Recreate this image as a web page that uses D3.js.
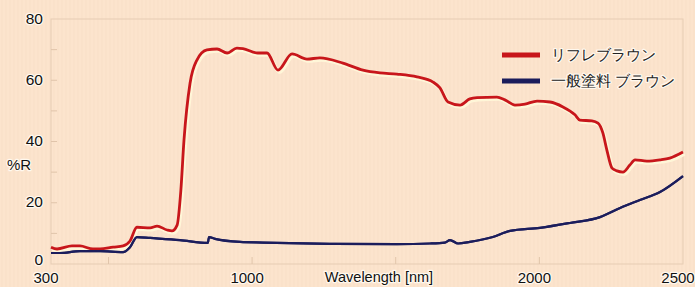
<!DOCTYPE html>
<html><head><meta charset="utf-8">
<script src="https://cdn.jsdelivr.net/npm/d3@7"></script>
<style>
html,body{margin:0;padding:0;background:#fce4cd;}
svg{display:block;}
text{font-family:"Liberation Sans",Arial,sans-serif;}
</style></head>
<body>
<svg id="c" width="695" height="287"></svg>
<script>
// ---- data ----
const reflWave = [300,321,373,401,446,471,516,551,575,599,645,669,704,721,739,752,763,784,808,843,878,913,947,968,1020,1052,1090,1139,1191,1236,1316,1386,1445,1504,1574,1630,1654,1682,1724,1758,1783,1852,1880,1915,1950,1992,2037,2082,2124,2141,2183,2204,2221,2235,2253,2270,2291,2315,2333,2374,2420,2454,2500];
const reflValues = [5.5,4.9,5.9,5.9,4.9,4.9,5.5,5.9,7.5,12,11.8,12.4,11.1,10.8,12.7,24,40.5,59,66.6,69.9,70.2,68.9,70.5,70.3,68.9,68.9,63.3,68.6,66.9,67.3,65.6,63.3,62.4,62.0,61.1,59.4,57.5,52.9,51.9,53.9,54.3,54.5,53.6,51.9,52.2,53.2,52.9,51.3,48.7,47.0,46.7,46.0,42.8,37.2,31.3,30.4,30.0,32.3,34,33.6,34,34.6,36.6];
const normWave = [300,331,401,471,551,575,599,645,749,846,850,871,958,1038,1271,1504,1619,1671,1689,1717,1758,1838,1898,2002,2106,2211,2281,2350,2420,2500];
const normValues = [3.6,3.6,4.2,4.2,3.9,5.5,8.8,8.5,7.8,6.9,8.8,8.2,7.2,7.0,6.6,6.5,6.7,7.0,7.8,6.7,7.2,8.8,10.8,11.8,13.4,15.3,18.3,20.9,23.5,28.7];
const seriesNames = ["リフレブラウン","一般塗料 ブラウン"];
const seriesColors = ["#c8161b","#1b1d5c"];
const xTickValues = [300,1000,2000,2500];
const xMinorTicks = [500,1000,1500,2000];
const yTickValues = [0,20,40,60,80];
const yMinorTicks = [10,20,30,40,50,60,70];

// ---- layout ----
const svg = d3.select("#c");
const L=51,R=683,T=19,B=264;
const x = d3.scaleLinear().domain([300,2500]).range([L,R]);
const y = d3.scaleLinear().domain([0,80]).range([B,T]);

svg.append("rect").attr("width",695).attr("height",287).attr("fill","#fce4cd");

// faint paper texture
const tex = svg.append("g").attr("stroke","#f3d8bf").attr("stroke-width",0.6).attr("opacity",0.6);
tex.selectAll("line").data(d3.range(2,695,4)).join("line")
  .attr("x1",d=>d).attr("x2",d=>d).attr("y1",0).attr("y2",287);

// frame
svg.append("rect").attr("x",L).attr("y",T).attr("width",R-L).attr("height",B-T)
  .attr("fill","none").attr("stroke","#e6ccb3").attr("stroke-width",1);

// minor ticks
const tk = svg.append("g").attr("stroke","#e0c4aa").attr("stroke-width",1);
tk.selectAll(".yt").data(yMinorTicks).join("line")
  .attr("x1",L).attr("x2",L+6).attr("y1",d=>y(d)).attr("y2",d=>y(d));
tk.selectAll(".xt").data(xMinorTicks).join("line")
  .attr("x1",d=>x(d)).attr("x2",d=>x(d)).attr("y1",B).attr("y2",B-7);

function halo(sel){
  return sel.attr("stroke","#fff8ee").attr("stroke-width",2.5).attr("stroke-linejoin","round")
    .attr("paint-order","stroke").attr("fill","#111");
}

// y labels
svg.selectAll(".yl").data(yTickValues).join("text")
  .attr("x",43).attr("y",d=>d===0 ? y(d)-5 : y(d)-1).attr("text-anchor","end").attr("dominant-baseline","central")
  .attr("font-size",15.5).text(d=>d).call(halo);
// x labels
svg.selectAll(".xl").data(xTickValues).join("text")
  .attr("x",d=>x(d)-5).attr("y",283).attr("text-anchor","middle")
  .attr("font-size",15).text(d=>d).call(halo);

svg.append("text").attr("x",7).attr("y",170).attr("font-size",15).text("%R").call(halo);
svg.append("text").attr("x",379).attr("y",282).attr("text-anchor","middle")
  .attr("font-size",14.5).text("Wavelength [nm]").call(halo);

// lines
const line = d3.line().x(d=>x(d[0])).y(d=>y(d[1])).curve(d3.curveMonotoneX);
const reflData = d3.zip(reflWave,reflValues);
const normData = d3.zip(normWave,normValues);

svg.append("path").datum(reflData).attr("d",line).attr("fill","none")
  .attr("stroke","#fff6d8").attr("stroke-width",3.5).attr("transform","translate(1.5,2)");
svg.append("path").datum(normData).attr("d",line).attr("fill","none")
  .attr("stroke","#2a2c6a").attr("stroke-width",2.2);
svg.append("path").datum(reflData).attr("d",line).attr("fill","none")
  .attr("stroke",seriesColors[0]).attr("stroke-width",2.8).attr("stroke-linejoin","round");
svg.append("path").datum(normData).attr("d",line).attr("fill","none")
  .attr("stroke",seriesColors[1]).attr("stroke-width",2.2).attr("stroke-linejoin","round");

// legend
const lg = svg.append("g");
seriesNames.forEach((n,i)=>{
  const yy = 55 + i*26;
  lg.append("rect").attr("x",502).attr("y",yy-2.5).attr("width",38).attr("height",5).attr("fill",seriesColors[i]);
  lg.append("text").attr("x",551).attr("y",yy).attr("dominant-baseline","central")
    .attr("font-family","'Noto Sans CJK JP',sans-serif").attr("font-size",14.5)
    .text(n).call(halo).attr("fill","#222");
});
</script>
</body></html>
